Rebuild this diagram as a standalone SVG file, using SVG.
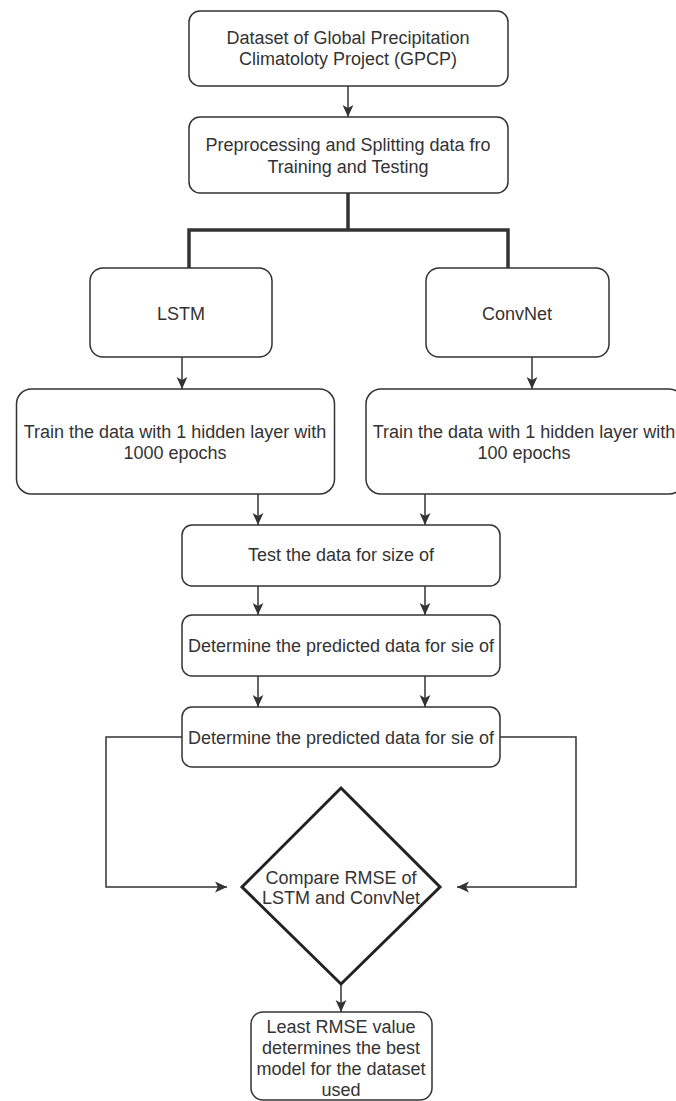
<svg xmlns="http://www.w3.org/2000/svg" width="676" height="1101" viewBox="0 0 676 1101">
<defs>
<marker id="arr" markerUnits="userSpaceOnUse" markerWidth="12" markerHeight="12" viewBox="0 0 10 10" refX="10" refY="5" orient="auto">
<path d="M0,0.5 L10,5 L0,9.5 L2.5,5 Z" fill="#333"/>
</marker>
</defs>
<style>
.box{fill:#fff;stroke:#333;stroke-width:1.5}
.dia{fill:#fff;stroke:#222;stroke-width:3}
.t{font-family:"Liberation Sans",Arial,sans-serif;font-size:18px;fill:#333;text-anchor:middle}
.c{fill:none;stroke:#333;stroke-width:1.5}
.thick{fill:none;stroke:#333;stroke-width:3.5}
</style>
<rect width="676" height="1101" fill="#fff"/>
<g id="connectors">
<line class="c" x1="348" y1="86" x2="348" y2="117" marker-end="url(#arr)"/>
<path class="thick" d="M348,193 V230 M189,268 V230 H508 V268"/>
<line class="c" x1="182" y1="357" x2="182" y2="389" marker-end="url(#arr)"/>
<line class="c" x1="532" y1="357" x2="532" y2="389" marker-end="url(#arr)"/>
<line class="c" x1="258" y1="494" x2="258" y2="525" marker-end="url(#arr)"/>
<line class="c" x1="425" y1="494" x2="425" y2="525" marker-end="url(#arr)"/>
<line class="c" x1="258" y1="586" x2="258" y2="615" marker-end="url(#arr)"/>
<line class="c" x1="425" y1="586" x2="425" y2="615" marker-end="url(#arr)"/>
<line class="c" x1="258" y1="676" x2="258" y2="707" marker-end="url(#arr)"/>
<line class="c" x1="425" y1="676" x2="425" y2="707" marker-end="url(#arr)"/>
<path class="c" d="M182,737 H106 V887 H227" marker-end="url(#arr)"/>
<path class="c" d="M500,737 H576 V887 H457" marker-end="url(#arr)"/>
<line class="c" x1="341" y1="984" x2="341" y2="1012" marker-end="url(#arr)"/>
</g>
<g id="n1"><rect class="box" x="189" y="11" width="319" height="75" rx="11"/>
<text class="t" x="348" y="44">Dataset of Global Precipitation</text>
<text class="t" x="348" y="65">Climatoloty Project (GPCP)</text></g>
<g id="n2"><rect class="box" x="189" y="117" width="319" height="76" rx="11"/>
<text class="t" x="348" y="151">Preprocessing and Splitting data fro</text>
<text class="t" x="348" y="173">Training and Testing</text></g>
<g id="lstm"><rect class="box" x="90" y="268" width="182" height="89" rx="13"/>
<text class="t" x="181" y="320">LSTM</text></g>
<g id="convnet"><rect class="box" x="426" y="268" width="183" height="89" rx="13"/>
<text class="t" x="517" y="320">ConvNet</text></g>
<g id="train1"><rect class="box" x="16.5" y="389" width="318" height="105" rx="15"/>
<text class="t" x="175" y="438">Train the data with 1 hidden layer with</text>
<text class="t" x="175" y="459">1000 epochs</text></g>
<g id="train2"><rect class="box" x="366" y="389" width="318" height="105" rx="15"/>
<text class="t" x="524" y="438">Train the data with 1 hidden layer with</text>
<text class="t" x="524" y="459">100 epochs</text></g>
<g id="test"><rect class="box" x="182" y="525" width="318" height="61" rx="10"/>
<text class="t" x="341" y="561">Test the data for size of</text></g>
<g id="det1"><rect class="box" x="182" y="615" width="318" height="61" rx="10"/>
<text class="t" x="341" y="652">Determine the predicted data for sie of</text></g>
<g id="det2"><rect class="box" x="182" y="707" width="318" height="60" rx="10"/>
<text class="t" x="341" y="744">Determine the predicted data for sie of</text></g>
<g id="compare"><path class="dia" d="M341,788 L440,887 L341,984 L242,887 Z"/>
<text class="t" x="341" y="884">Compare RMSE of</text>
<text class="t" x="341" y="904">LSTM and ConvNet</text></g>
<g id="result"><rect class="box" x="251" y="1012" width="181" height="88" rx="12"/>
<text class="t" x="341" y="1033">Least RMSE value</text>
<text class="t" x="341" y="1054">determines the best</text>
<text class="t" x="341" y="1075">model for the dataset</text>
<text class="t" x="341" y="1096">used</text></g>
</svg>
